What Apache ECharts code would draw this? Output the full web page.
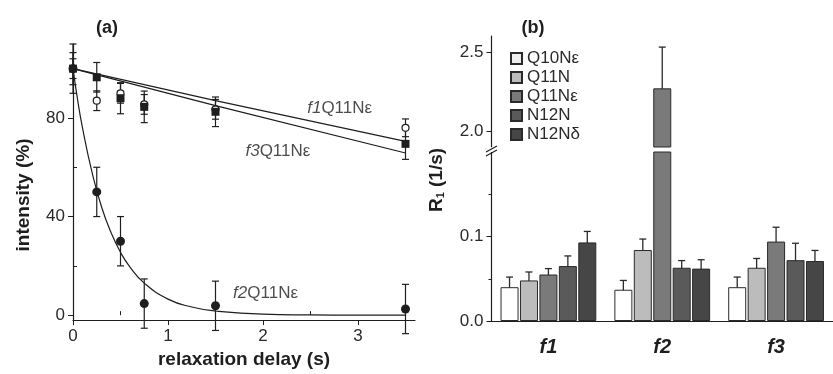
<!DOCTYPE html>
<html>
<head>
<meta charset="utf-8">
<script src="https://cdn.jsdelivr.net/npm/echarts@6.0.0/dist/echarts.min.js"></script>
<style>
  html, body { margin: 0; padding: 0; background: #fff; }
  #chart { width: 833px; height: 374px; }
</style>
</head>
<body>
<div id="chart"></div>
<script>
// ---- panel (a): intensity vs relaxation delay ----
const delays = [0, 0.25, 0.5, 0.75, 1.5, 3.5];
const f1Int = [100, 87, 90, 85.5, 83.5, 76];
const f1Err = [4, 4, 4, 4, 4, 3.6];
const f3Int = [100, 96.5, 88, 84.5, 82.5, 69.5];
const f3Err = [6.5, 6, 6.3, 6.4, 6, 6.3];
const f2Int = [100, 50, 30, 4.7, 3.8, 2.5];
const f2Err = [10, 10, 10, 10, 10, 10];

// fitted curves
const fitDelay13 = [0, 1.5, 3.5];
const f1Fit = [100, 87, 70.5];
const f3Fit = [100, 85, 65.8];
const fitDelay2 = [0, 0.05, 0.1, 0.2, 0.3, 0.4, 0.5, 0.6, 0.75, 1, 1.25, 1.5, 2, 2.5, 3, 3.5];
const f2Fit = [100, 87, 76, 58, 44, 33.5, 25.5, 19.5, 13, 6.5, 3.3, 1.7, 0.4, 0.1, 0, 0];

// curve annotations, anchored in data units
const curveLabels = [
  { tag: 'f1', x: 2.46, y: 83.8 },
  { tag: 'f3', x: 1.81, y: 66.5 },
  { tag: 'f2', x: 1.68, y: 8.9 }
];
const xTicksA = [0, 1, 2, 3];
const xMinorA = [0.5, 1.5, 2.5, 3.5];
const yTicksA = [0, 40, 80];
const yMinorA = [20, 60, 100];

// ---- panel (b): R1 per fraction ----
const groups = ['f1', 'f2', 'f3'];
const sites = ['Q10Nε', 'Q11N', 'Q11Nε', 'N12N', 'N12Nδ'];
const q10Ne = [0.040, 0.037, 0.040];
const q11N = [0.048, 0.084, 0.063];
const q11Ne = [0.055, 2.27, 0.094];
const n12N = [0.065, 0.063, 0.072];
const n12Nd = [0.093, 0.062, 0.071];
const q10NeErr = [0.012, 0.011, 0.012];
const q11NErr = [0.010, 0.013, 0.011];
const q11NeErr = [0.007, 0.26, 0.017];
const n12NErr = [0.012, 0.0085, 0.020];
const n12NdErr = [0.013, 0.0105, 0.0125];
const lowTicksB = [0, 0.1];
const lowMinorB = [0.05, 0.15];
const highTicksB = [2.0, 2.5];

const siteValues = [q10Ne, q11N, q11Ne, n12N, n12Nd];
const siteErrors = [q10NeErr, q11NErr, q11NeErr, n12NErr, n12NdErr];
const siteColors = ['#ffffff', '#bcbcbc', '#7a7a7a', '#5a5a5a', '#464646'];

const FONT = '"Liberation Sans", Arial, sans-serif';
const INK = '#1e1e1e';
const BAR_W = 18;
const BAR_GAP = 0.08;

function errBarA(params, api) {
  const x = api.value(0);
  const top = api.coord([x, api.value(2)]);
  const bot = api.coord([x, api.value(1)]);
  const w = 3.5;
  const st = { stroke: INK, lineWidth: 1.2 };
  return {
    type: 'group',
    children: [
      { type: 'line', shape: { x1: top[0], y1: top[1], x2: bot[0], y2: bot[1] }, style: st },
      { type: 'line', shape: { x1: top[0] - w, y1: top[1], x2: top[0] + w, y2: top[1] }, style: st },
      { type: 'line', shape: { x1: bot[0] - w, y1: bot[1], x2: bot[0] + w, y2: bot[1] }, style: st }
    ]
  };
}

// error bar sits on the k-th bar of a category group
function errBarB(params, api) {
  const cat = api.value(0);
  const k = api.value(1);
  const off = (k - 2) * BAR_W * (1 + BAR_GAP);
  const top = api.coord([cat, api.value(3)]);
  const bot = api.coord([cat, api.value(2)]);
  const x = top[0] + off;
  const w = 3.5;
  const st = { stroke: '#2a2a2a', lineWidth: 1.3 };
  return {
    type: 'group',
    children: [
      { type: 'line', shape: { x1: x, y1: top[1], x2: x, y2: bot[1] }, style: st },
      { type: 'line', shape: { x1: x - w, y1: top[1], x2: x + w, y2: top[1] }, style: st },
      { type: 'line', shape: { x1: x - w, y1: bot[1], x2: x + w, y2: bot[1] }, style: st }
    ]
  };
}

const errA = (vals, errs) => delays.map((d, i) => [d, vals[i] - errs[i], vals[i] + errs[i]]);
const errB = [];
siteValues.forEach((vals, k) => {
  vals.forEach((v, c) => errB.push([c, k, v - siteErrors[k][c], v + siteErrors[k][c]]));
});

const axisLineStyle = { lineStyle: { color: INK, width: 1.2 } };
const tickLabel = { color: '#2a2a2a', fontSize: 17, fontFamily: FONT };

// same bars in the lower (0-0.2) and upper (1.9-2.6) grids, clipped by each
const barSeries = [];
[[2, 2], [3, 4]].forEach(([xi, yi]) => {
  sites.forEach((name, k) => {
    barSeries.push({
      name: name, type: 'bar', xAxisIndex: xi, yAxisIndex: yi,
      data: siteValues[k], barWidth: BAR_W, barGap: (BAR_GAP * 100) + '%', clip: true,
      itemStyle: { color: siteColors[k], borderColor: '#2a2a2a', borderWidth: 1 }
    });
  });
});

const option = {
  animation: false,
  backgroundColor: '#fff',
  textStyle: { fontFamily: FONT },
  title: [
    { text: '(a)', left: 102, top: 14, textAlign: 'center',
      textStyle: { fontSize: 18, fontWeight: 'bold', color: INK, fontFamily: FONT } },
    { text: '(b)', left: 528, top: 14, textAlign: 'center',
      textStyle: { fontSize: 18, fontWeight: 'bold', color: INK, fontFamily: FONT } }
  ],
  legend: {
    data: sites.map((s, k) => (k === 0 ? { name: s, itemStyle: { color: '#eeeeee' } } : s)),
    orient: 'vertical',
    left: 505,
    top: 45,
    itemWidth: 11,
    itemHeight: 11,
    itemGap: 2,
    icon: 'rect',
    textStyle: { fontSize: 17, color: '#2a2a2a', fontFamily: FONT }
  },
  grid: [
    { left: 73, right: 418, top: 44, bottom: 53 },
    { left: 491.5, right: -11, top: 152, bottom: 53 },
    { left: 491.5, right: -11, top: 36, bottom: 227 }
  ],
  xAxis: [
    {
      gridIndex: 0, type: 'value', min: 0, max: 3.6,
      axisLine: { onZero: false, ...axisLineStyle },
      axisTick: { length: 5, customValues: xTicksA, lineStyle: { color: INK } },
      axisLabel: { ...tickLabel, margin: 8, customValues: xTicksA },
      splitLine: { show: false },
      name: 'relaxation delay (s)', nameLocation: 'middle', nameGap: 27,
      nameTextStyle: { fontSize: 19, fontWeight: 'bold', color: INK, fontFamily: FONT }
    },
    {
      gridIndex: 0, type: 'value', min: 0, max: 3.6, position: 'bottom',
      axisLine: { show: false },
      axisTick: { inside: true, length: 4, customValues: xMinorA, lineStyle: { color: INK } },
      axisLabel: { show: false },
      splitLine: { show: false }
    },
    {
      gridIndex: 1, type: 'category', data: groups,
      axisLine: { onZero: false, ...axisLineStyle },
      axisTick: { show: false },
      axisLabel: { color: INK, fontSize: 20, fontWeight: 'bold', fontStyle: 'italic', margin: 16, fontFamily: FONT }
    },
    { gridIndex: 2, type: 'category', data: groups, show: false }
  ],
  yAxis: [
    {
      gridIndex: 0, type: 'value', min: -2, max: 110,
      axisLine: { show: true, onZero: false, ...axisLineStyle },
      axisTick: { show: true, length: 5, customValues: yTicksA, lineStyle: { color: INK } },
      axisLabel: { ...tickLabel, margin: 8, customValues: yTicksA },
      splitLine: { show: false }
    },
    {
      gridIndex: 0, type: 'value', min: -2, max: 110, position: 'left',
      axisLine: { show: false },
      axisTick: { show: true, inside: true, length: 4, customValues: yMinorA, lineStyle: { color: INK } },
      axisLabel: { show: false },
      splitLine: { show: false }
    },
    {
      gridIndex: 1, type: 'value', min: 0, max: 0.2, interval: 0.1,
      axisLine: { show: true, onZero: false, ...axisLineStyle },
      axisTick: { show: true, length: 5, customValues: lowTicksB, lineStyle: { color: INK } },
      axisLabel: { ...tickLabel, margin: 8, customValues: lowTicksB, formatter: v => v.toFixed(1) },
      splitLine: { show: false }
    },
    {
      gridIndex: 1, type: 'value', min: 0, max: 0.2, position: 'left',
      axisLine: { show: false },
      axisTick: { show: true, length: 3, customValues: lowMinorB, lineStyle: { color: INK } },
      axisLabel: { show: false },
      splitLine: { show: false }
    },
    {
      gridIndex: 2, type: 'value', min: 1.9, max: 2.6,
      axisLine: { show: true, onZero: false, ...axisLineStyle },
      axisTick: { show: true, length: 5, customValues: highTicksB, lineStyle: { color: INK } },
      axisLabel: { ...tickLabel, margin: 8, customValues: highTicksB, formatter: v => v.toFixed(1) },
      splitLine: { show: false }
    }
  ],
  graphic: [
    {
      type: 'text', x: 24, y: 195, rotation: Math.PI / 2,
      style: { text: 'intensity (%)', fill: INK, font: 'bold 19px ' + FONT, align: 'center', verticalAlign: 'middle' }
    },
    {
      type: 'text', x: 437, y: 180, rotation: Math.PI / 2,
      style: {
        text: '{b|R}{s|1}{b| (1/s)}', fill: INK, align: 'center', verticalAlign: 'middle',
        rich: {
          b: { fontSize: 19, fontWeight: 'bold', fontFamily: FONT, fill: INK },
          s: { fontSize: 11, fontWeight: 'bold', fontFamily: FONT, fill: INK, verticalAlign: 'bottom' }
        }
      }
    },
    // axis break marks
    { type: 'rect', shape: { x: 484, y: 147.5, width: 14, height: 4.5 }, style: { fill: '#fff' }, z: 100 },
    { type: 'line', shape: { x1: 486, y1: 152, x2: 497, y2: 146 }, style: { stroke: INK, lineWidth: 1.1 }, z: 101 },
    { type: 'line', shape: { x1: 486, y1: 156, x2: 497, y2: 150 }, style: { stroke: INK, lineWidth: 1.1 }, z: 101 }
  ],
  series: [
    {
      name: 'f2fit', type: 'line', xAxisIndex: 0, yAxisIndex: 0, smooth: true, symbol: 'none',
      data: fitDelay2.map((d, i) => [d, f2Fit[i]]), lineStyle: { color: INK, width: 1.2 }
    },
    {
      name: 'f1fit', type: 'line', xAxisIndex: 0, yAxisIndex: 0, smooth: true, symbol: 'none',
      data: fitDelay13.map((d, i) => [d, f1Fit[i]]), lineStyle: { color: INK, width: 1.2 }
    },
    {
      name: 'f3fit', type: 'line', xAxisIndex: 0, yAxisIndex: 0, smooth: true, symbol: 'none',
      data: fitDelay13.map((d, i) => [d, f3Fit[i]]), lineStyle: { color: INK, width: 1.2 }
    },
    { type: 'custom', xAxisIndex: 0, yAxisIndex: 0, renderItem: errBarA, data: errA(f2Int, f2Err) },
    { type: 'custom', xAxisIndex: 0, yAxisIndex: 0, renderItem: errBarA, data: errA(f3Int, f3Err) },
    { type: 'custom', xAxisIndex: 0, yAxisIndex: 0, renderItem: errBarA, data: errA(f1Int, f1Err) },
    {
      name: 'f1', type: 'scatter', xAxisIndex: 0, yAxisIndex: 0, symbol: 'circle', symbolSize: 7,
      data: delays.map((d, i) => [d, f1Int[i]]),
      itemStyle: { color: '#fff', borderColor: INK, borderWidth: 1.2, opacity: 1 }
    },
    {
      name: 'f3', type: 'scatter', xAxisIndex: 0, yAxisIndex: 0, symbol: 'rect', symbolSize: 8,
      data: delays.map((d, i) => [d, f3Int[i]]), itemStyle: { color: INK, opacity: 1 }
    },
    {
      name: 'f2', type: 'scatter', xAxisIndex: 0, yAxisIndex: 0, symbol: 'circle', symbolSize: 9,
      data: delays.map((d, i) => [d, f2Int[i]]), itemStyle: { color: INK, opacity: 1 }
    },
    {
      name: 'labels', type: 'scatter', xAxisIndex: 0, yAxisIndex: 0, symbolSize: 1, silent: true,
      itemStyle: { color: 'transparent' },
      data: curveLabels.map(c => ({ name: c.tag, value: [c.x, c.y] })),
      label: {
        show: true, position: 'right', distance: 0,
        formatter: p => '{i|' + p.name + '}{n|Q11Nε}',
        rich: {
          i: { fontSize: 17, fontStyle: 'italic', color: INK, fontFamily: FONT },
          n: { fontSize: 17, color: INK, fontFamily: FONT }
        }
      }
    },
    ...barSeries,
    { type: 'custom', xAxisIndex: 2, yAxisIndex: 2, clip: true, renderItem: errBarB, data: errB },
    { type: 'custom', xAxisIndex: 3, yAxisIndex: 4, clip: true, renderItem: errBarB, data: errB }
  ]
};

const chart = echarts.init(document.getElementById('chart'));
chart.setOption(option);
</script>
</body>
</html>
